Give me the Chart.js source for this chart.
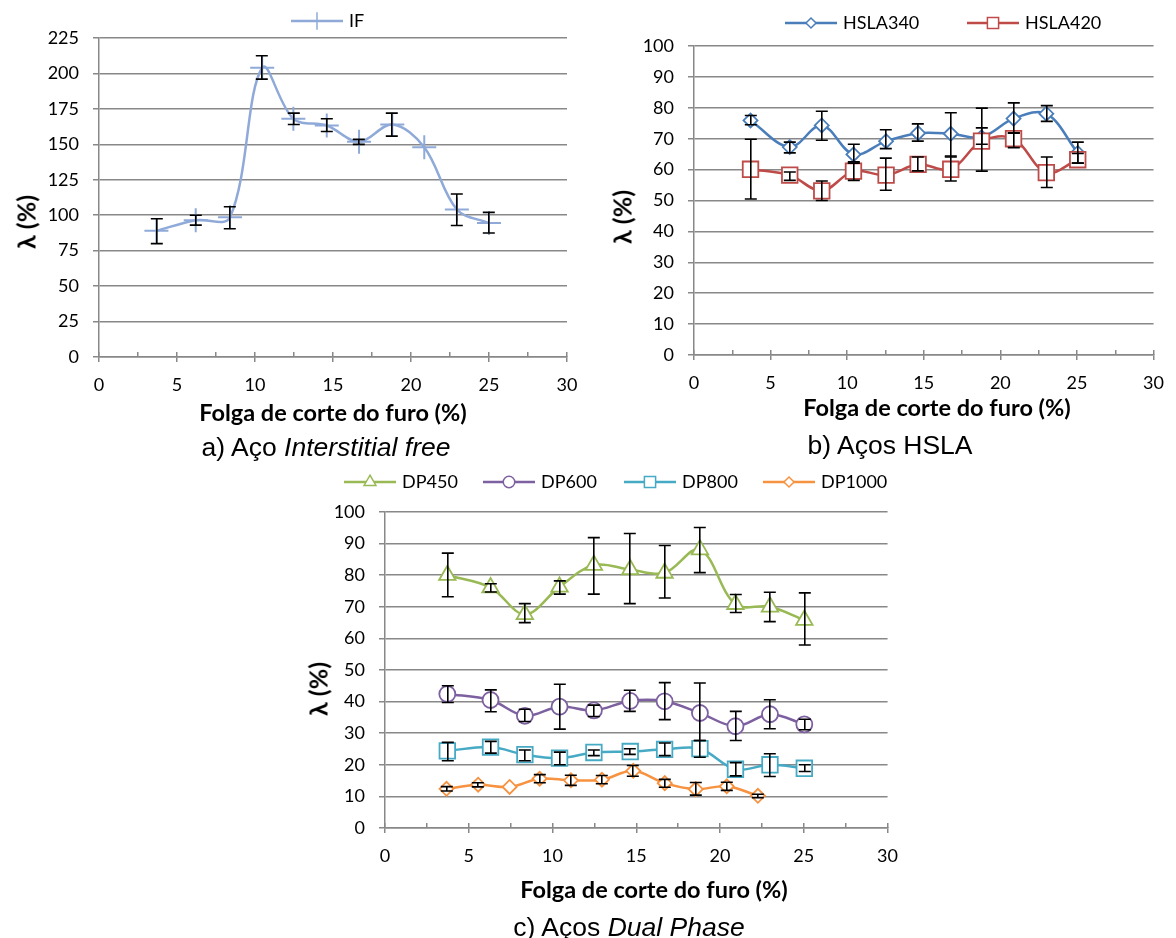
<!DOCTYPE html>
<html>
<head>
<meta charset="utf-8">
<script src="https://cdn.jsdelivr.net/npm/chart.js@4.4.1/dist/chart.umd.min.js"></script>
<style>
body{margin:0;background:#fff;width:1176px;height:938px;position:relative;overflow:hidden;font-family:Lato,'Noto Sans',sans-serif;color:#000;}
canvas{position:absolute;}
.t{position:absolute;white-space:nowrap;transform:translate(-50%,-50%);line-height:1;}
.ax{font-weight:bold;font-size:23.5px;}
.yt{transform:translate(-50%,-50%) rotate(-90deg);font-size:25px;}
.cap{font-family:'Liberation Sans',Arial,sans-serif;font-size:26.5px;}
</style>
</head>
<body>
<canvas id="chartA" width="590" height="400" style="left:0;top:0"></canvas>
<canvas id="chartB" width="586" height="400" style="left:590px;top:0"></canvas>
<canvas id="chartC" width="620" height="420" style="left:290px;top:460px"></canvas>

<div class="t ax yt" style="left:26px;top:222px">λ (%)</div>
<div class="t ax" style="left:333px;top:413px">Folga de corte do furo (%)</div>
<div class="t cap" style="left:326px;top:447px">a) Aço <i>Interstitial free</i></div>

<div class="t ax yt" style="left:622px;top:217px">λ (%)</div>
<div class="t ax" style="left:937px;top:408px">Folga de corte do furo (%)</div>
<div class="t cap" style="left:890px;top:445px">b) Aços HSLA</div>

<div class="t ax yt" style="left:318px;top:689px">λ (%)</div>
<div class="t ax" style="left:654px;top:890px">Folga de corte do furo (%)</div>
<div class="t cap" style="left:629px;top:927px">c) Aços <i>Dual Phase</i></div>

<script>
// a) IF
const folgaIF = [3.68, 6.2, 8.4, 10.46, 12.46, 14.6, 16.67, 18.8, 20.85, 22.94, 25.0];
const lambdaIF = [89, 96.5, 98.5, 204, 168, 163.3, 151.8, 164, 148, 104, 94.5];
const supIF = [97.5, 100, 106, 212.5, 172, 168, 153.5, 172, null, 115, 102];
const infIF = [80, 93, 90.5, 196, 164, 159, 150, 155.8, null, 92.7, 87.5];

// b) HSLA
const folgaHSLA = [3.69, 6.25, 8.34, 10.41, 12.54, 14.63, 16.76, 18.77, 20.86, 23.0, 25.05];
const lambdaHSLA340 = [75.9, 67.3, 74.3, 64.9, 69.2, 71.8, 71.6, 70.5, 76.5, 78.1, 65.4];
const supHSLA340 = [77.5, 68.9, 78.9, 68.2, 72.9, 74.8, 78.4, 73.5, 81.6, 80.7, 68.9];
const infHSLA340 = [74.5, 65.4, 69.5, 62.5, 66.8, 69.2, 64.1, 68.2, 71.8, 75.6, 62.1];
const lambdaHSLA420 = [60.1, 58.2, 53.1, 59.5, 58.2, 61.7, 60.1, 69.2, 70.0, 59.0, 63.2];
const supHSLA420 = [69.8, 59.2, 56.3, 62.1, 63.7, 64.1, 64.4, 79.9, 71.9, 64.1, 65.2];
const infHSLA420 = [50.5, 56.5, 50.0, 56.5, 53.3, 59.6, 56.3, 59.5, 67.1, 54.2, 62.1];

// c) Dual Phase
const folgaDP = [3.72, 6.3, 8.35, 10.42, 12.47, 14.64, 16.69, 18.8, 20.92, 22.98, 25.03];
const lambdaDP450 = [80, 76.1, 67.6, 76.3, 83.2, 81.8, 80.7, 88.1, 70.8, 70.0, 65.8];
const supDP450 = [87, 77.3, 71, 78.2, 91.9, 93.2, 89.4, 95.1, 73.9, 74.6, 74.4];
const infDP450 = [73.2, 74.7, 65, 74, 74, 71, 72.8, 80.8, 68.2, 65.3, 57.9];
const lambdaDP600 = [42.4, 40.5, 35.5, 38.4, 37.2, 40.2, 40.1, 36.4, 32.2, 36.0, 32.8];
const supDP600 = [45, 43.7, 37.6, 45.5, 38.9, 43.6, 46.0, 45.9, 36.9, 40.6, 34.4];
const infDP600 = [39.7, 36.8, 33.7, 31.3, 35.3, 36.9, 34.3, 27.7, 27.7, 31.4, 31.1];
const lambdaDP800 = [24.4, 25.6, 23.2, 22.1, 23.9, 24.2, 24.9, 25.1, 18.6, 20.0, 18.9];
const supDP800 = [27.1, 27.4, 24.7, 24.0, 24.7, 25.1, 26.9, 27.7, 20.7, 23.5, 20.0];
const infDP800 = [21.3, 23.7, 21.3, 20.0, 22.9, 23.3, 22.9, 22.4, 16.5, 16.3, 17.9];
const folgaDP1000 = [3.67, 5.56, 7.44, 9.23, 11.1, 12.95, 14.82, 16.7, 18.55, 20.4, 22.26];
const lambdaDP1000 = [12.4, 13.7, 13.0, 15.6, 15.1, 15.3, 18.1, 14.2, 12.3, 13.2, 10.2];
const supDP1000 = [13.1, 14.3, null, 16.9, 16.7, 16.6, 19.8, 15.4, 14.4, 14.5, 10.7];
const infDP1000 = [11.7, 13.0, null, 14.3, 13.5, 14.0, 16.4, 12.9, 10.4, 11.9, 9.6];

const GRID = '#888888';
Chart.defaults.font.family = "Lato, 'Noto Sans', sans-serif";
Chart.defaults.font.size = 18;
Chart.defaults.color = '#000';

function serie(label, xs, ys, sup, inf, color, style, radius){
	let pts = [];
	for(var i=0;i<xs.length;i=i+1){
		pts.push({x: xs[i], y: ys[i]});
	}
	return {
		label: label, data: pts, sup: sup, inf: inf,
		borderColor: color, backgroundColor: color, borderWidth: 2.5,
		showLine: true, tension: 0.35,
		pointStyle: style, pointRadius: radius, pointHoverRadius: radius,
		pointBorderWidth: style == 'cross' ? 2 : 1.8,
		pointBorderColor: color,
		pointBackgroundColor: style == 'cross' ? color : '#fff'
	};
}

function alignPx(p, w){
	return Math.round(p - w / 2) + w / 2;
}

// barras de erro (pretas, com traço no topo e na base)
const errorBars = {
	id: 'errorBars',
	afterDatasetsDraw(chart){
		const ctx = chart.ctx, sx = chart.scales.x, sy = chart.scales.y;
		ctx.save();
		ctx.strokeStyle = '#000';
		ctx.lineWidth = 1.6;
		chart.data.datasets.forEach(ds => {
			ds.data.forEach((p, i) => {
				if(ds.sup[i] == null) return;
				let x = alignPx(sx.getPixelForValue(p.x), 1.6);
				let y1 = sy.getPixelForValue(ds.sup[i]);
				let y2 = sy.getPixelForValue(ds.inf[i]);
				ctx.beginPath();
				ctx.moveTo(x, y1); ctx.lineTo(x, y2);
				ctx.moveTo(x - 6, y1); ctx.lineTo(x + 6, y1);
				ctx.moveTo(x - 6, y2); ctx.lineTo(x + 6, y2);
				ctx.stroke();
			});
		});
		ctx.restore();
	}
};

// marcas do eixo x por dentro da area
const innerTicks = {
	id: 'innerTicks',
	afterDraw(chart){
		const ctx = chart.ctx, sx = chart.scales.x, b = chart.chartArea.bottom;
		ctx.save();
		ctx.strokeStyle = GRID;
		ctx.lineWidth = 1.5;
		sx.ticks.forEach(t => {
			let x = alignPx(sx.getPixelForValue(t.value), 1.5);
			ctx.beginPath();
			ctx.moveTo(x, b - 5); ctx.lineTo(x, b);
			ctx.stroke();
		});
		ctx.restore();
	}
};

// legenda estilo Excel: linha + marcador + texto
function lineLegend(pos, y){
	return {
		id: 'lineLegend',
		afterDraw(chart){
			const ctx = chart.ctx;
			chart.data.datasets.forEach((ds, i) => {
				let cx = pos[i];
				ctx.save();
				ctx.strokeStyle = ds.borderColor;
				ctx.lineWidth = 2.5;
				ctx.beginPath();
				ctx.moveTo(cx - 26, y); ctx.lineTo(cx + 26, y);
				ctx.stroke();
				ctx.fillStyle = ds.pointBackgroundColor;
				ctx.lineWidth = 1.5;
				Chart.helpers.drawPoint(ctx, {pointStyle: ds.pointStyle, radius: ds.pointRadius * 0.72, rotation: 0, borderWidth: 1.5}, cx, y);
				ctx.fillStyle = '#000';
				ctx.font = "18px Lato, 'Noto Sans', sans-serif";
				ctx.textBaseline = 'middle';
				ctx.textAlign = 'left';
				ctx.fillText(ds.label, cx + 32, y);
				ctx.restore();
			});
		}
	};
}

function makeChart(id, datasets, yMax, yStep, box, legendPos, legendY){
	// ultimas series por cima
	datasets.forEach((ds, i) => { ds.order = datasets.length - i; });
	return new Chart(document.getElementById(id), {
		type: 'scatter',
		data: {datasets: datasets},
		options: {
			responsive: false,
			animation: false,
			devicePixelRatio: 1,
			layout: {padding: {left: 0, top: box.top, right: box.right, bottom: 0}},
			plugins: {legend: {display: false}, tooltip: {enabled: false}},
			scales: {
				x: {
					type: 'linear', min: 0, max: 30,
					afterFit: s => { s.height = box.xH; },
					ticks: {
						stepSize: 2.5, autoSkip: false, maxRotation: 0, padding: 12,
						callback: v => (v % 5 == 0 ? v : '')
					},
					grid: {
						drawOnChartArea: false, tickLength: 5, lineWidth: 1.5,
						color: GRID,
						tickColor: c => (c.tick && c.tick.value % 5 == 0 ? GRID : 'rgba(0,0,0,0)')
					},
					border: {color: GRID, width: 1.5}
				},
				y: {
					min: 0, max: yMax,
					afterFit: s => { s.width = box.yW; },
					ticks: {stepSize: yStep, padding: 14},
					grid: {color: GRID, lineWidth: 1.5, tickLength: 6},
					border: {color: GRID, width: 1.5}
				}
			}
		},
		plugins: [errorBars, innerTicks, lineLegend(legendPos, legendY)]
	});
}

makeChart('chartA', [
	serie('IF', folgaIF, lambdaIF, supIF, infIF, '#8FAAD8', 'cross', 12)
], 225, 25, {top: 38, right: 23, yW: 99, xH: 43}, [317], 21);

makeChart('chartB', [
	serie('HSLA340', folgaHSLA, lambdaHSLA340, supHSLA340, infHSLA340, '#4A7EBB', 'rectRot', 7),
	serie('HSLA420', folgaHSLA, lambdaHSLA420, supHSLA420, infHSLA420, '#BE4B48', 'rect', 11)
], 100, 10, {top: 46, right: 13, yW: 104, xH: 45}, [221, 403], 23);

makeChart('chartC', [
	serie('DP450', folgaDP, lambdaDP450, supDP450, infDP450, '#98B954', 'triangle', 9.5),
	serie('DP600', folgaDP, lambdaDP600, supDP600, infDP600, '#7D60A0', 'circle', 8),
	serie('DP800', folgaDP, lambdaDP800, supDP800, infDP800, '#46AAC5', 'rect', 11),
	serie('DP1000', folgaDP1000, lambdaDP1000, supDP1000, infDP1000, '#F69240', 'rectRot', 7)
], 100, 10, {top: 52, right: 22, yW: 95, xH: 52}, [80, 219, 360, 499], 22);
</script>
</body>
</html>
